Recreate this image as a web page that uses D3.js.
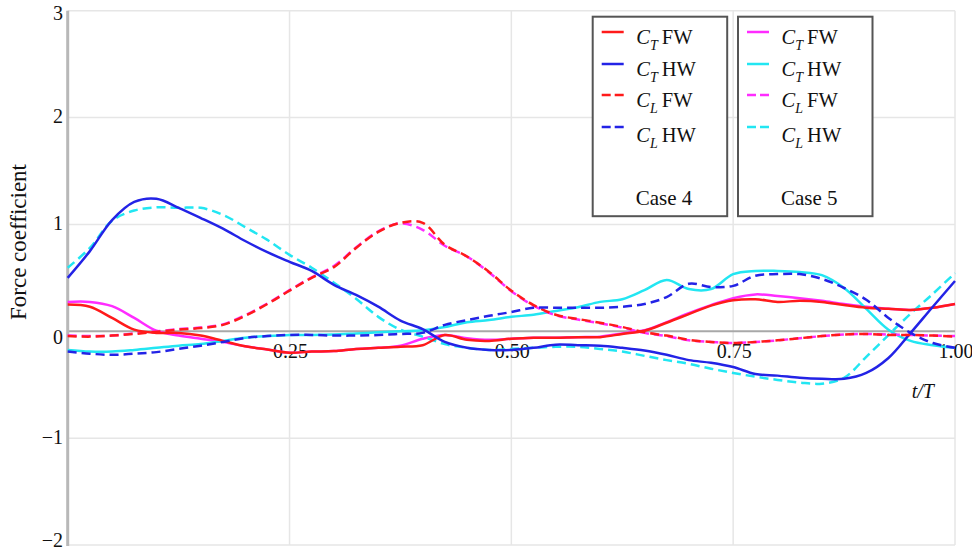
<!DOCTYPE html>
<html>
<head>
<meta charset="utf-8">
<script src="https://cdn.jsdelivr.net/npm/d3@7"></script>
<style>
  html, body { margin: 0; padding: 0; background: #fff; }
  svg { display: block; font-family: "Liberation Serif", "Times New Roman", serif; }
</style>
</head>
<body>
<svg id="chart" width="972" height="552"></svg>
<script>
// ---- data ----
const tValues = [0, 0.025, 0.05, 0.075, 0.1, 0.125, 0.15, 0.175, 0.2, 0.225,
  0.25, 0.275, 0.3, 0.325, 0.35, 0.375, 0.4, 0.425, 0.45, 0.475,
  0.5, 0.525, 0.55, 0.575, 0.6, 0.625, 0.65, 0.675, 0.7, 0.725,
  0.75, 0.775, 0.8, 0.825, 0.85, 0.875, 0.9, 0.925, 0.95, 0.975, 1];

// Case 4
const ctFW4 = [0.25, 0.23, 0.125, 0.015, -0.015, -0.015, -0.04, -0.09, -0.14, -0.17,
  -0.2, -0.19, -0.185, -0.165, -0.155, -0.145, -0.13, -0.035, -0.08, -0.09,
  -0.07, -0.06, -0.06, -0.055, -0.055, -0.025, 0.005, 0.08, 0.16, 0.24,
  0.29, 0.3, 0.275, 0.285, 0.275, 0.245, 0.22, 0.21, 0.2, 0.22, 0.255];
const ctHW4 = [0.5, 0.75, 1.04, 1.21, 1.24, 1.155, 1.06, 0.96, 0.845, 0.74,
  0.65, 0.565, 0.435, 0.34, 0.23, 0.1, 0.02, -0.1, -0.155, -0.175,
  -0.175, -0.155, -0.125, -0.13, -0.135, -0.155, -0.18, -0.22, -0.27, -0.295,
  -0.335, -0.4, -0.415, -0.435, -0.445, -0.445, -0.39, -0.25, -0.015, 0.23, 0.47];
const clFW4 = [-0.045, -0.05, -0.04, -0.025, -0.005, 0.015, 0.03, 0.06, 0.145, 0.255,
  0.38, 0.5, 0.6, 0.78, 0.93, 1.015, 1.015, 0.81, 0.7, 0.555,
  0.38, 0.245, 0.155, 0.115, 0.08, 0.04, -0.01, -0.04, -0.08, -0.1,
  -0.11, -0.1, -0.085, -0.065, -0.045, -0.03, -0.025, -0.035, -0.035, -0.04, -0.05];
const clHW4 = [-0.19, -0.21, -0.22, -0.21, -0.195, -0.165, -0.135, -0.1, -0.062, -0.045,
  -0.034, -0.034, -0.04, -0.04, -0.035, -0.025, -0.015, 0.06, 0.105, 0.145,
  0.18, 0.22, 0.22, 0.22, 0.22, 0.23, 0.255, 0.32, 0.445, 0.415,
  0.425, 0.52, 0.535, 0.535, 0.49, 0.405, 0.295, 0.125, -0.015, -0.11, -0.155];

// Case 5
const ctFW5 = [0.275, 0.275, 0.235, 0.125, 0.005, -0.04, -0.07, -0.1, -0.14, -0.17,
  -0.2, -0.19, -0.185, -0.165, -0.155, -0.135, -0.07, -0.035, -0.065, -0.08,
  -0.07, -0.06, -0.06, -0.055, -0.05, -0.02, 0.01, 0.085, 0.17, 0.245,
  0.31, 0.345, 0.33, 0.31, 0.285, 0.255, 0.23, 0.21, 0.2, 0.22, 0.255];
const ctHW5 = [-0.175, -0.19, -0.19, -0.175, -0.155, -0.135, -0.12, -0.09, -0.06, -0.045,
  -0.035, -0.035, -0.03, -0.02, -0.01, 0.0, 0.01, 0.04, 0.085, 0.105,
  0.135, 0.155, 0.19, 0.225, 0.275, 0.3, 0.385, 0.48, 0.395, 0.395,
  0.535, 0.565, 0.565, 0.555, 0.525, 0.405, 0.21, 0.015, -0.09, -0.13, -0.155];
const clFW5 = [-0.04, -0.045, -0.04, -0.02, 0.0, 0.02, 0.035, 0.065, 0.15, 0.26,
  0.385, 0.505, 0.61, 0.785, 0.935, 1.01, 0.95, 0.8, 0.7, 0.55,
  0.375, 0.24, 0.15, 0.11, 0.075, 0.035, -0.015, -0.045, -0.085, -0.1,
  -0.11, -0.1, -0.085, -0.065, -0.045, -0.03, -0.025, -0.03, -0.035, -0.04, -0.045];
const clHW5 = [0.595, 0.78, 1.035, 1.13, 1.16, 1.155, 1.155, 1.09, 0.975, 0.855,
  0.715, 0.595, 0.455, 0.305, 0.135, 0.015, -0.05, -0.12, -0.155, -0.175,
  -0.165, -0.155, -0.145, -0.145, -0.165, -0.19, -0.23, -0.27, -0.305, -0.35,
  -0.39, -0.425, -0.455, -0.48, -0.49, -0.435, -0.24, -0.035, 0.165, 0.35, 0.545];

const xTicks = [0.25, 0.5, 0.75, 1.0];
const xTickLabels = ["0.25", "0.50", "0.75", "1.00"];
const yTicks = [3, 2, 1, 0, -1, -2];
const yTickLabels = ["3", "2", "1", "0", "\u22121", "\u22122"];

const legendCases = ["Case 4", "Case 5"];
const legendSymbols = ["T", "T", "L", "L"];
const legendWings = ["FW", "HW", "FW", "HW"];

// series configuration (drawing order: case 5 first, case 4 on top)
const series = [
  { values: ctFW5, color: "#ff2cff", dash: null, caseIdx: 1, row: 0 },
  { values: ctHW5, color: "#22e6f2", dash: null, caseIdx: 1, row: 1 },
  { values: clFW5, color: "#ff2cff", dash: "9,5", caseIdx: 1, row: 2 },
  { values: clHW5, color: "#22e6f2", dash: "9,5", caseIdx: 1, row: 3 },
  { values: ctFW4, color: "#ff1a1a", dash: null, caseIdx: 0, row: 0 },
  { values: ctHW4, color: "#2323e6", dash: null, caseIdx: 0, row: 1 },
  { values: clFW4, color: "#ff1a1a", dash: "9,5", caseIdx: 0, row: 2 },
  { values: clHW4, color: "#2323e6", dash: "9,5", caseIdx: 0, row: 3 }
];

// ---- chart ----
const svg = d3.select("#chart");
const x = d3.scaleLinear().domain([0, 1]).range([67.7, 955]);
const y = d3.scaleLinear().domain([-2, 3]).range([545, 10.7]);

// grid
const grid = svg.append("g");
grid.selectAll("line.hg").data(yTicks.filter(v => v !== 0)).join("line")
  .attr("x1", x(0)).attr("x2", x(1))
  .attr("y1", d => y(d)).attr("y2", d => y(d))
  .attr("stroke", "#e6e6e6").attr("stroke-width", 1.5);
grid.selectAll("line.vg").data(xTicks).join("line")
  .attr("x1", d => x(d)).attr("x2", d => x(d))
  .attr("y1", y(3)).attr("y2", y(-2))
  .attr("stroke", "#e6e6e6").attr("stroke-width", 1.5);

// zero line
svg.append("line")
  .attr("x1", x(0)).attr("x2", x(1))
  .attr("y1", y(0)).attr("y2", y(0))
  .attr("stroke", "#a8a8a8").attr("stroke-width", 2);

// left axis line
svg.append("line")
  .attr("x1", x(0)).attr("x2", x(0))
  .attr("y1", y(3)).attr("y2", y(-2) + 1)
  .attr("stroke", "#b8b8b8").attr("stroke-width", 3);

// y tick labels
svg.append("g").selectAll("text").data(yTicks).join("text")
  .attr("x", 63)
  .attr("y", (d) => y(d) + (d === 0 ? 8 : (d === 3 ? 5 : (d === -2 ? -3 : 1))))
  .attr("text-anchor", "end")
  .attr("dominant-baseline", "middle")
  .attr("font-size", 20)
  .attr("fill", "#111")
  .text((d, i) => yTickLabels[i]);

// x tick labels
svg.append("g").selectAll("text").data(xTicks).join("text")
  .attr("x", d => x(d) + 1)
  .attr("y", 358)
  .attr("text-anchor", "middle")
  .attr("font-size", 20)
  .attr("fill", "#111")
  .text((d, i) => xTickLabels[i]);

// x axis title t/T
svg.append("text")
  .attr("x", 934).attr("y", 398)
  .attr("text-anchor", "end")
  .attr("font-size", 20)
  .attr("font-style", "italic")
  .attr("fill", "#111")
  .text("t/T");

// y axis title
svg.append("text")
  .attr("transform", "translate(26,242) rotate(-90)")
  .attr("text-anchor", "middle")
  .attr("font-size", 23)
  .attr("fill", "#111")
  .text("Force coefficient");

// curves
const line = d3.line()
  .x((d, i) => x(tValues[i]))
  .y(d => y(d))
  .curve(d3.curveCatmullRom.alpha(0.5));

svg.append("g").selectAll("path").data(series).join("path")
  .attr("d", d => line(d.values))
  .attr("fill", "none")
  .attr("stroke", d => d.color)
  .attr("stroke-width", 2.5)
  .attr("stroke-dasharray", d => d.dash)
  .attr("stroke-linejoin", "round");

// legends
const boxX = [592.7, 738];
const boxY = 16.7, boxW = 134.5, boxH = 199.5;
const rowY = [32, 64, 95, 127];
const textY = [44, 76, 107, 142];

legendCases.forEach((caseName, ci) => {
  const g = svg.append("g").attr("transform", `translate(${boxX[ci]},${boxY})`);
  g.append("rect")
    .attr("x", 0).attr("y", 0).attr("width", boxW).attr("height", boxH)
    .attr("fill", "#fff").attr("stroke", "#555").attr("stroke-width", 2);
  const entries = series.filter(s => s.caseIdx === ci).sort((a, b) => a.row - b.row);
  entries.forEach(s => {
    const ly = rowY[s.row] - boxY;
    g.append("line")
      .attr("x1", 9).attr("x2", 31)
      .attr("y1", ly).attr("y2", ly)
      .attr("stroke", s.color).attr("stroke-width", 2.5)
      .attr("stroke-dasharray", s.dash ? "9,4" : null);
    const t = g.append("text")
      .attr("x", 43.5).attr("y", textY[s.row] - boxY)
      .attr("font-size", 20.5).attr("fill", "#111");
    t.append("tspan").attr("font-style", "italic").text("C");
    t.append("tspan").attr("font-style", "italic").attr("font-size", 14)
      .attr("dy", 6).text(legendSymbols[s.row]);
    t.append("tspan").attr("dy", -6).text("\u2009" + legendWings[s.row]);
  });
  g.append("text")
    .attr("x", boxW / 2 + 4).attr("y", 198 - boxY + 7)
    .attr("text-anchor", "middle")
    .attr("font-size", 21).attr("fill", "#111")
    .text(caseName);
});
</script>
</body>
</html>
